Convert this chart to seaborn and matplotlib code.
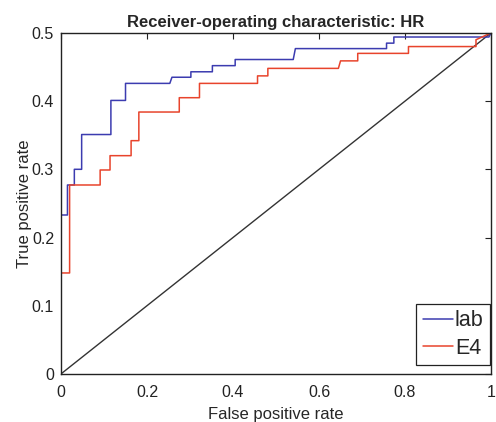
import matplotlib
matplotlib.use('Agg')
import matplotlib.pyplot as plt
import seaborn as sns
import pandas as pd

# ROC curve vertices (false positive rate, true positive rate)
lab_fpr = [0, 0, 0.015, 0.015, 0.031, 0.031, 0.048, 0.048, 0.116, 0.116, 0.150, 0.150,
           0.253, 0.258, 0.302, 0.302, 0.352, 0.352, 0.405, 0.405, 0.540, 0.545,
           0.757, 0.757, 0.774, 0.774, 0.995, 1.0]
lab_tpr = [0, 0.233, 0.233, 0.277, 0.277, 0.300, 0.300, 0.351, 0.351, 0.401, 0.401, 0.426,
           0.426, 0.435, 0.435, 0.443, 0.443, 0.452, 0.452, 0.461, 0.461, 0.477,
           0.477, 0.485, 0.485, 0.494, 0.494, 0.5]

e4_fpr = [0, 0, 0.020, 0.020, 0.091, 0.091, 0.114, 0.114, 0.163, 0.163, 0.181, 0.181,
          0.275, 0.275, 0.322, 0.322, 0.457, 0.457, 0.481, 0.481, 0.645, 0.650,
          0.690, 0.690, 0.808, 0.808, 0.965, 0.965, 1.0]
e4_tpr = [0, 0.148, 0.148, 0.277, 0.277, 0.299, 0.299, 0.320, 0.320, 0.342, 0.342, 0.384,
          0.384, 0.405, 0.405, 0.426, 0.426, 0.437, 0.437, 0.448, 0.448, 0.459,
          0.459, 0.470, 0.470, 0.480, 0.480, 0.490, 0.5]

chance_fpr = [0, 1]
chance_tpr = [0, 0.5]

sns.set_style('white')
plt.rcParams['font.family'] = ['Liberation Sans', 'DejaVu Sans']

fig = plt.figure(figsize=(4.96, 4.22), dpi=100)
ax = fig.add_axes([0.123, 0.114, 0.867, 0.808])

lab = pd.DataFrame({'fpr': lab_fpr, 'tpr': lab_tpr})
e4 = pd.DataFrame({'fpr': e4_fpr, 'tpr': e4_tpr})
chance = pd.DataFrame({'fpr': chance_fpr, 'tpr': chance_tpr})

# estimator=None keeps every vertex so the steps stay as drawn
sns.lineplot(data=chance, x='fpr', y='tpr', sort=False, estimator=None,
             color='#333333', lw=1.0, ax=ax)
sns.lineplot(data=lab, x='fpr', y='tpr', sort=False, estimator=None,
             color='#3c3cb0', lw=1.1, ax=ax, label='lab')
sns.lineplot(data=e4, x='fpr', y='tpr', sort=False, estimator=None,
             color='#e8442c', lw=1.1, ax=ax, label='E4')

ax.set_xlim(0, 1)
ax.set_ylim(0, 0.5)
ax.set_xticks([0, 0.2, 0.4, 0.6, 0.8, 1])
ax.set_xticklabels(['0', '0.2', '0.4', '0.6', '0.8', '1'])
ax.set_yticks([0, 0.1, 0.2, 0.3, 0.4, 0.5])
ax.set_yticklabels(['0', '0.1', '0.2', '0.3', '0.4', '0.5'])
ax.tick_params(direction='in', length=4, width=0.8, labelsize=11.5, colors='#222222',
               top=True, right=True)
ax.tick_params(axis='x', pad=8)
ax.tick_params(axis='y', pad=5)
for s in ax.spines.values():
    s.set_visible(True)
    s.set_color('#222222')
    s.set_linewidth(1.0)

ax.set_title('Receiver-operating characteristic: HR', fontsize=12, fontweight='bold', pad=4)
ax.set_xlabel('False positive rate', fontsize=12, labelpad=5)
ax.set_ylabel('True positive rate', fontsize=12, labelpad=0)

leg = ax.legend(loc='lower right', bbox_to_anchor=(0.998, 0.026), fontsize=15.5,
                frameon=True, fancybox=False, handlelength=1.4, handletextpad=0.1,
                borderpad=0.3, labelspacing=0.3, borderaxespad=0)
leg.get_frame().set_edgecolor('#222222')
leg.get_frame().set_linewidth(0.9)
leg.get_frame().set_alpha(1)

fig.savefig('out.png', dpi=100)
